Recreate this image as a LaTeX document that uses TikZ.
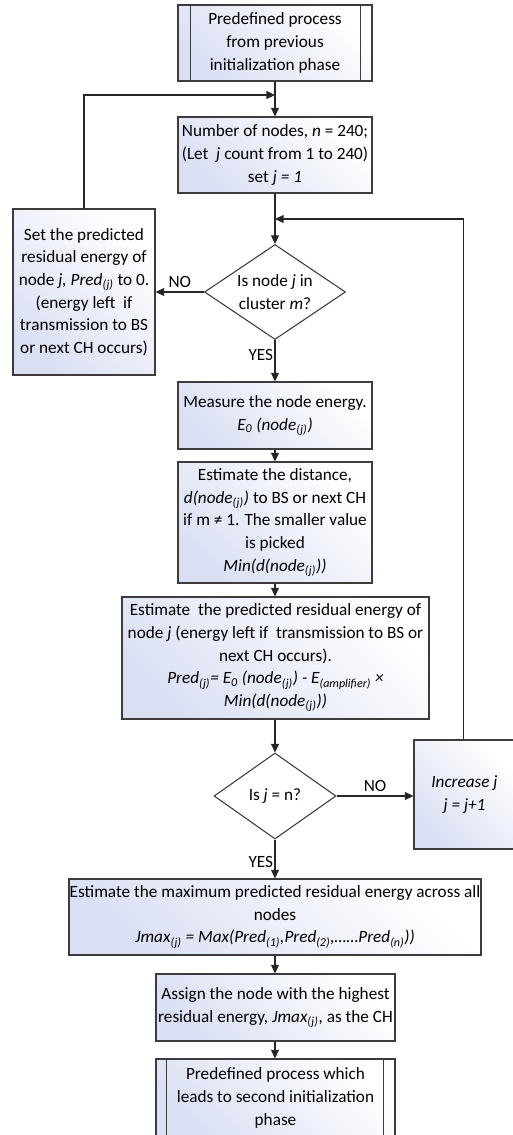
\documentclass[tikz,border=0pt]{standalone}
\usepackage{fontspec}
\setmainfont{Carlito}
\usetikzlibrary{arrows.meta,shapes.geometric}
\definecolor{fillc}{RGB}{218,224,244}
\definecolor{linec}{RGB}{60,60,60}
\newcommand{\sub}[1]{\textsubscript{\textit{#1}}}
\begin{document}
\begin{tikzpicture}[x=0.75pt,y=-0.75pt,
  font=\fontsize{12.9}{17}\selectfont,
  box/.style={draw=linec, line width=0.8pt, top color=fillc, bottom color=white, shading angle=135, align=center, inner sep=0pt},
  dia/.style={draw=linec, line width=0.8pt, diamond, fill=white, inner sep=0pt},
  conn/.style={draw=black!85, line width=0.8pt, -{Triangle[length=6.5pt,width=6pt]}},
  lab/.style={inner sep=1pt}]
\useasboundingbox (0,0) rectangle (513,1135);
\clip (0,0) rectangle (513,1135);

\node[box, minimum width=145.5pt, minimum height=57pt] (top) at (275,43)
  {Predefined process\\from previous\\initialization phase};
\draw[linec, line width=0.8pt] ([xshift=9.75pt]top.north west) -- ([xshift=9.75pt]top.south west)
  ([xshift=-9pt]top.north east) -- ([xshift=-9pt]top.south east);

\node[box, minimum width=145.5pt, minimum height=57pt] (num) at (275,155)
  {Number of nodes, \textit{n} = 240;\\(Let \ \textit{j} count from 1 to 240)\\set \textit{j = 1}};

\node[dia, minimum width=105.75pt, minimum height=71.25pt,
  label={[align=center]center:Is node \textit{j} in\\cluster \textit{m}?}] (d1) at (275,292) {};

\node[box, minimum width=106.5pt, minimum height=124.5pt] (setp) at (84,292)
  {Set the predicted\\residual energy of\\node \textit{j, Pred}\sub{(j)} to 0.\\(energy left \ if\\transmission to BS\\or next CH occurs)};

\node[box, minimum width=145.5pt, minimum height=50.25pt] (meas) at (275,415.5)
  {Measure the node energy.\\\textit{E\textsubscript{0} (node\textsubscript{(j)})}};

\node[box, minimum width=145.5pt, minimum height=90.75pt] (dist) at (275,522.5)
  {Estimate the distance,\\\textit{d(node\textsubscript{(j)})} to BS or next CH\\if m ≠ 1. The smaller value\\is picked\\\textit{Min(d(node\textsubscript{(j)}))}};

\node[box, minimum width=230.25pt, minimum height=91.5pt] (pred) at (275.5,658)
  {Estimate \ the predicted residual energy of\\node \textit{j} (energy left if \ transmission to BS or\\next CH occurs).\\\textit{Pred\textsubscript{(j)}= E\textsubscript{0} (node\textsubscript{(j)}) - E\textsubscript{(amplifier)} ×}\\\textit{Min(d(node\textsubscript{(j)}))}};

\node[dia, minimum width=91.5pt, minimum height=64.5pt,
  label={center:Is \textit{j} = n?}] (d2) at (275,796) {};

\node[box, minimum width=75.75pt, minimum height=81.75pt] (inc) at (464.5,794.5)
  {\textit{Increase j}\\\textit{j = j+1}};

\node[box, minimum width=309pt, minimum height=57pt] (max) at (275,917)
  {Estimate the maximum predicted residual energy across all\\nodes\\\textit{Jmax\textsubscript{(j)} = Max(Pred\textsubscript{(1)},Pred\textsubscript{(2)},……Pred\textsubscript{(n)}))}};

\node[box, minimum width=179.25pt, minimum height=50.25pt] (asg) at (275.5,1007.5)
  {Assign the node with the highest\\residual energy, \textit{Jmax\textsubscript{(j)}}, as the CH};

\node[box, minimum width=179.25pt, minimum height=58.5pt] (bot) at (275.5,1098)
  {Predefined process which\\leads to second initialization\\phase};
\draw[linec, line width=0.8pt] ([xshift=8.25pt]bot.north west) -- ([xshift=8.25pt]bot.south west)
  ([xshift=-9pt]bot.north east) -- ([xshift=-9pt]bot.south east);

\coordinate (mA) at (275,95);
\coordinate (mB) at (275,219);

\draw[conn] (top.south) -- (num.north);
\draw[conn] (setp.north) |- (mA);
\draw[conn] (num.south) -- (d1.north);
\draw[conn] ([xshift=-1pt]inc.north) |- (mB);
\draw[conn] (d1.west) -- node[lab, above=2pt] {NO} (setp.east);
\draw[conn] (d1.south) -- node[lab, left, pos=0.37] {YES} (meas.north);
\draw[conn] (meas.south) -- (dist.north);
\draw[conn] (dist.south) -- (dist.south |- pred.north);
\draw[conn] (pred.south -| d2.north) -- (d2.north);
\draw[conn] (d2.east) -- node[lab, above=2pt] {NO} (d2.east -| inc.west);
\draw[conn] (d2.south) -- node[lab, left, pos=0.58] {YES} (max.north);
\draw[conn] (max.south) -- (max.south |- asg.north);
\draw[conn] (asg.south -| max.south) -- (max.south |- bot.north);
\end{tikzpicture}
\end{document}
